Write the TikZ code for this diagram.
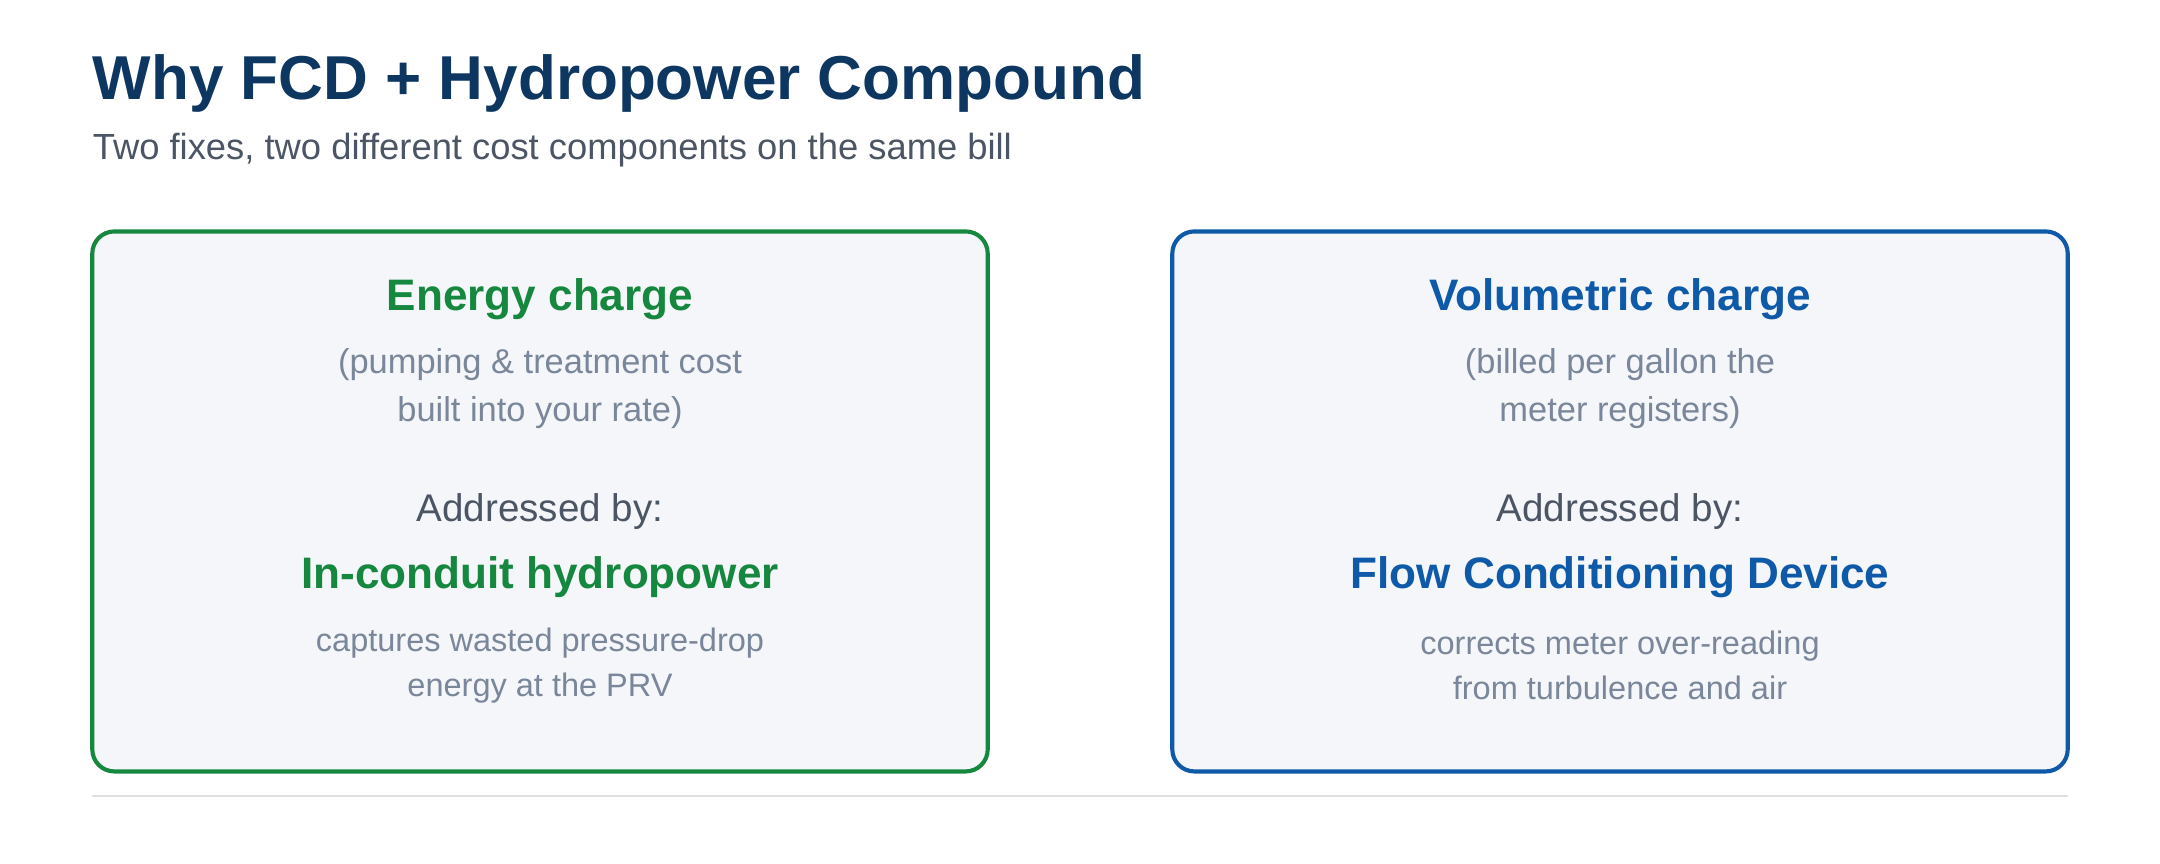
\documentclass[tikz,border=0pt]{standalone}
\usepackage{fontspec}
\setmainfont{Liberation Sans}
\definecolor{ttl}{HTML}{0D3660}
\definecolor{sub}{HTML}{4B5563}
\definecolor{grn}{HTML}{16873F}
\definecolor{blu}{HTML}{0F5AA8}
\definecolor{gry}{HTML}{7A8699}
\definecolor{fil}{HTML}{F4F6F9}
\begin{document}
\begin{tikzpicture}[x=0.5pt,y=-0.5pt,
  box/.style={draw,line width=1.5pt,rounded corners=8pt,fill=fil},
  head/.style={font=\bfseries\fontsize{16}{19}\selectfont},
  desc/.style={text=gry,align=center,font=\fontsize{12.5}{17.5}\selectfont},
  addr/.style={text=sub,font=\fontsize{14}{17}\selectfont},
  small/.style={text=gry,align=center,font=\fontsize{11.8}{16.5}\selectfont}]
\useasboundingbox (0,0) rectangle (1568,627);
\node[anchor=base west,text=ttl,font=\bfseries\fontsize{22.5}{27}\selectfont,inner sep=0] (title) at (67,72) {Why FCD + Hydropower Compound};
\node[anchor=base west,text=sub,font=\fontsize{13.2}{16}\selectfont,inner sep=0] (subtitle) at (67,116) {Two fixes, two different cost components on the same bill};
\draw[box,draw=grn] (67,168) rectangle (717,560);
\draw[box,draw=blu] (851,168) rectangle (1501,560);
\draw[line width=0.8pt,draw=black!12] (67,578) -- (1501,578);
% left
\node[head,text=grn] (lh) at (392,217) {Energy charge};
\node[desc] (ld) at (392,282) {(pumping \& treatment cost\\built into your rate)};
\node[addr] (la) at (392,371) {Addressed by:};
\node[head,text=grn] (lf) at (392,419) {In-conduit hydropower};
\node[small] (ls) at (392,483) {captures wasted pressure-drop\\energy at the PRV};
% right
\node[head,text=blu] (rh) at (1176,217) {Volumetric charge};
\node[desc] (rd) at (1176,282) {(billed per gallon the\\meter registers)};
\node[addr] (ra) at (1176,371) {Addressed by:};
\node[head,text=blu] (rf) at (1176,419) {Flow Conditioning Device};
\node[small] (rs) at (1176,483) {corrects meter over-reading\\from turbulence and air};
\end{tikzpicture}
\end{document}
